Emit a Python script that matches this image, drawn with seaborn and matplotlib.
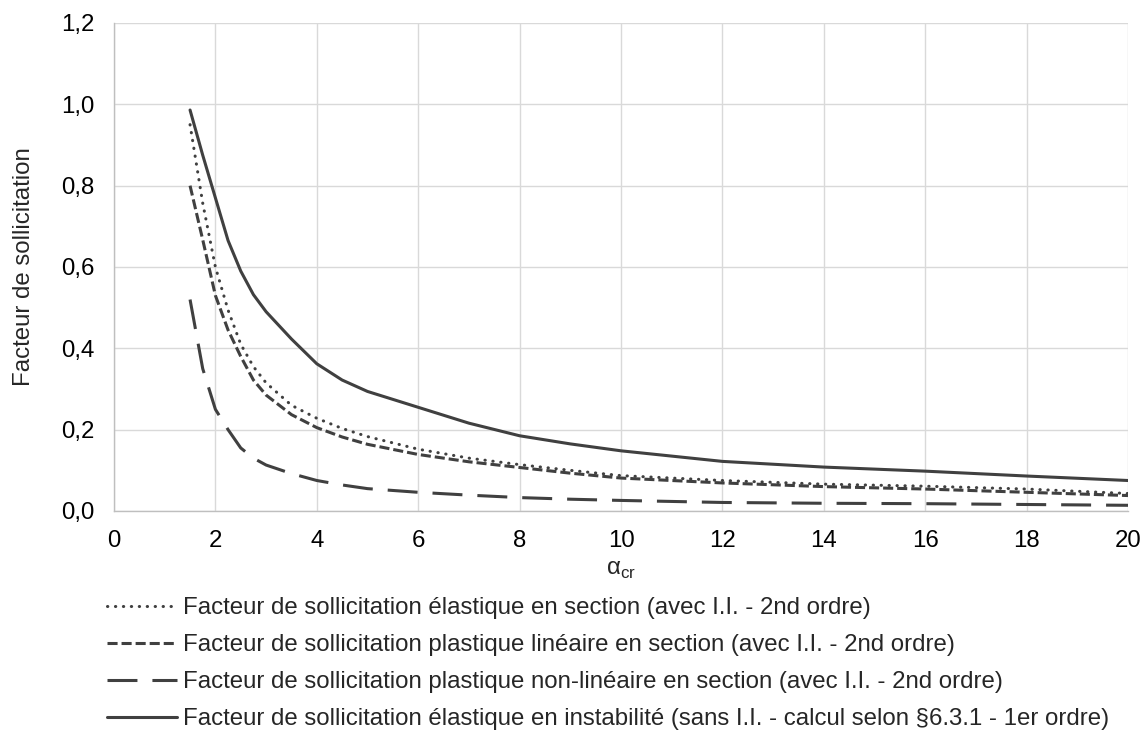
import numpy as np
import pandas as pd
import matplotlib
matplotlib.use("Agg")
import matplotlib.pyplot as plt
import seaborn as sns
from matplotlib.ticker import FuncFormatter, MultipleLocator

# alpha_cr sampling points
alpha = [1.5, 1.75, 2, 2.25, 2.5, 2.75, 3, 3.5, 4, 4.5, 5, 6, 7, 8, 9, 10, 12, 14, 16, 18, 20]

elast_section = [0.95, 0.757, 0.60, 0.494, 0.41, 0.355, 0.315, 0.26, 0.228, 0.203, 0.183,
                 0.152, 0.13, 0.114, 0.10, 0.087, 0.075, 0.066, 0.061, 0.054, 0.043]
plast_lin = [0.80, 0.667, 0.53, 0.445, 0.38, 0.322, 0.285, 0.237, 0.205, 0.182, 0.164,
             0.139, 0.121, 0.107, 0.093, 0.081, 0.069, 0.060, 0.054, 0.046, 0.038]
plast_nonlin = [0.52, 0.35, 0.25, 0.20, 0.155, 0.13, 0.113, 0.092, 0.075, 0.064, 0.055,
                0.046, 0.039, 0.033, 0.029, 0.026, 0.021, 0.019, 0.018, 0.016, 0.014]
elast_instab = [0.986, 0.875, 0.77, 0.665, 0.59, 0.532, 0.49, 0.423, 0.362, 0.322, 0.294,
                0.255, 0.216, 0.185, 0.165, 0.148, 0.122, 0.108, 0.098, 0.086, 0.075]

labels = [
    "Facteur de sollicitation élastique en section (avec I.I. - 2nd ordre)",
    "Facteur de sollicitation plastique linéaire en section (avec I.I. - 2nd ordre)",
    "Facteur de sollicitation plastique non-linéaire en section (avec I.I. - 2nd ordre)",
    "Facteur de sollicitation élastique en instabilité (sans I.I. - calcul selon §6.3.1 - 1er ordre)",
]

sns.set_style("whitegrid")
plt.rcParams["font.family"] = ["Liberation Sans", "DejaVu Sans"]
plt.rcParams["mathtext.fontset"] = "custom"
plt.rcParams["mathtext.rm"] = "Liberation Sans"

fs = 17.3
fig = plt.figure(figsize=(11.42, 7.31), dpi=100)
ax = fig.add_axes([114 / 1142, 1 - 511 / 731, (1128 - 114) / 1142, (511 - 23) / 731])

col = "#404040"
lw = 2.2
styles = [
    dict(linestyle=(0, (0.1, 2.5)), dash_capstyle="round"),
    dict(linestyle=(0, (3.3, 1.3))),
    dict(linestyle=(0, (9.8, 4.9))),
    dict(linestyle="-"),
]
series = [elast_section, plast_lin, plast_nonlin, elast_instab]

for vals, lab, st in zip(series, labels, styles):
    sns.lineplot(x=alpha, y=vals, ax=ax, color=col, linewidth=lw, label=lab, **st)

ax.set_xlim(0, 20)
ax.set_ylim(0, 1.2)
ax.xaxis.set_major_locator(MultipleLocator(2))
ax.yaxis.set_major_locator(MultipleLocator(0.2))
ax.yaxis.set_major_formatter(FuncFormatter(lambda v, p: f"{v:.1f}".replace(".", ",")))
ax.tick_params(axis="x", labelsize=fs, colors="#000000", length=0, pad=14)
ax.tick_params(axis="y", labelsize=fs, colors="#000000", length=0, pad=14)
ax.grid(color="#d9d9d9", linewidth=1)
for s in ["top", "right"]:
    ax.spines[s].set_visible(False)
for s in ["left", "bottom"]:
    ax.spines[s].set_color("#bfbfbf")
    ax.spines[s].set_linewidth(1)

ax.set_xlabel("α$_{\\mathrm{cr}}$", fontsize=fs)
ax.xaxis.set_label_coords(0.5, (511 - 559) / 488)
ax.set_ylabel("Facteur de sollicitation", fontsize=fs)
ax.yaxis.set_label_coords((35 - 114) / 1014, 0.5)

ax.legend_.remove()
h, l = ax.get_legend_handles_labels()
fig.legend(h, l, loc="upper left", bbox_to_anchor=(107 / 1142, 1 - 597 / 731),
           frameon=False, fontsize=fs, handlelength=2.9, handletextpad=0.28,
           labelspacing=0.63, borderpad=0, borderaxespad=0)

fig.savefig("out.png", dpi=100)
